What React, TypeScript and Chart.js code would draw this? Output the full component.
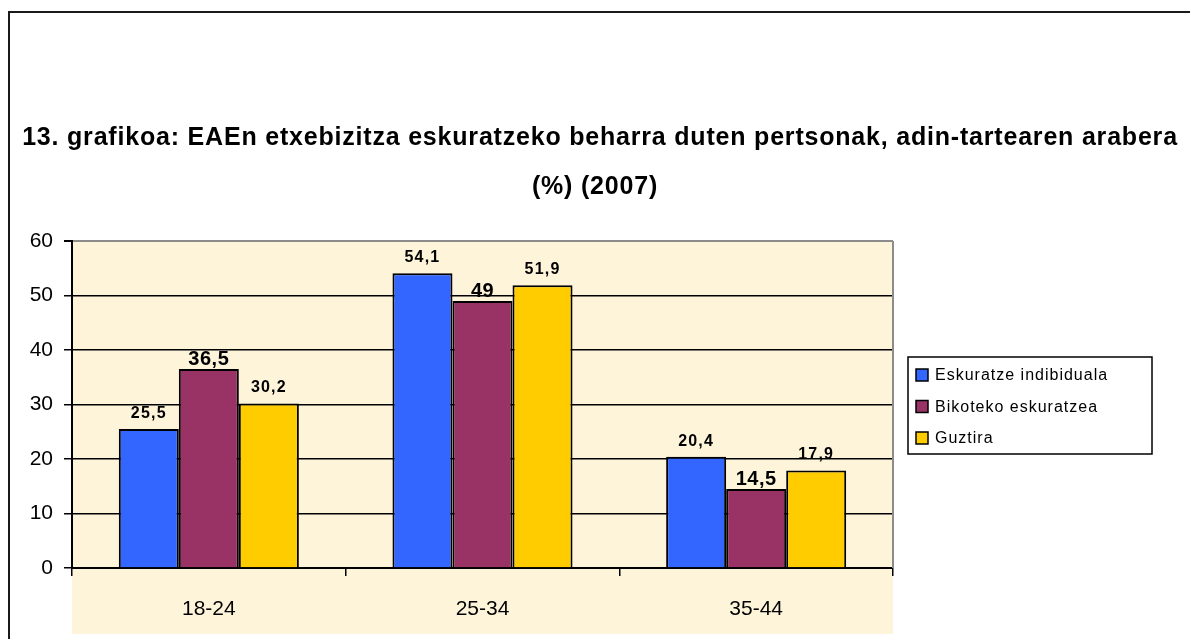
import React, { useEffect, useRef } from "react";
import { Chart, registerables } from "chart.js";

Chart.register(...registerables);

const TITLE_LINES = [
  "13. grafikoa: EAEn etxebizitza eskuratzeko beharra duten pertsonak, adin-tartearen arabera",
  "(%) (2007)",
];
const CATEGORIES = ["18-24", "25-34", "35-44"];
const SERIES_NAMES = ["Eskuratze indibiduala", "Bikoteko eskuratzea", "Guztira"];
const INDIVIDUAL = [25.5, 54.1, 20.4];
const COUPLE = [36.5, 49, 14.5];
const TOTAL = [30.2, 51.9, 17.9];
const Y_MIN = 0;
const Y_MAX = 60;
const Y_STEP = 10;

const COLORS = ["#3366FF", "#993366", "#FFCC00"];
const FONT = "Arial, 'Liberation Sans', sans-serif";
const BEIGE = "#FDF4DA";

const fmt = (v: number) => String(v).replace(".", ",");

const decorPlugin = {
  id: "decor",
  beforeDraw(chart: any) {
    const { ctx, chartArea } = chart;
    const xs = chart.scales.x;
    ctx.save();
    ctx.fillStyle = "#ffffff";
    ctx.fillRect(0, 0, chart.width, chart.height);
    ctx.fillStyle = BEIGE;
    ctx.fillRect(chartArea.left, chartArea.top, chartArea.right - chartArea.left, xs.bottom - 5 - chartArea.top);
    ctx.restore();
  },
  afterDraw(chart: any) {
    const { ctx, chartArea } = chart;
    ctx.save();
    // outer frame
    ctx.strokeStyle = "#1a1a1a";
    ctx.lineWidth = 2;
    ctx.beginPath();
    ctx.moveTo(9, chart.height + 5);
    ctx.lineTo(9, 12);
    ctx.lineTo(chart.width + 5, 12);
    ctx.stroke();

    // plot right border (grey)
    ctx.strokeStyle = "#8c8c8c";
    ctx.lineWidth = 2;
    ctx.beginPath();
    ctx.moveTo(chartArea.right, chartArea.top);
    ctx.lineTo(chartArea.right, chartArea.bottom);
    ctx.stroke();

    // title
    ctx.fillStyle = "#000";
    ctx.font = `bold 25px ${FONT}`;
    (ctx as any).letterSpacing = "0.8px";
    ctx.textAlign = "center";
    ctx.textBaseline = "alphabetic";
    ctx.fillText(TITLE_LINES[0], 600, 145);
    ctx.fillText(TITLE_LINES[1], 595, 194);

    // value labels
    chart.data.datasets.forEach((ds: any, di: number) => {
      const meta = chart.getDatasetMeta(di);
      const big = ds.labelBig;
      ctx.font = big ? `bold 20px ${FONT}` : `bold 16px ${FONT}`;
      (ctx as any).letterSpacing = big ? "0.5px" : "1.2px";
      ctx.textAlign = "center";
      ctx.textBaseline = "alphabetic";
      meta.data.forEach((bar: any, i: number) => {
        const v = ds.data[i];
        ctx.fillText(fmt(v), bar.x, bar.y - (big ? 4 : 11));
      });
    });

    // legend
    const lx = 908, ly = 357, lw = 244, lh = 97;
    ctx.fillStyle = "#ffffff";
    ctx.fillRect(lx, ly, lw, lh);
    ctx.strokeStyle = "#000";
    ctx.lineWidth = 1.5;
    ctx.strokeRect(lx, ly, lw, lh);
    ctx.font = `16px ${FONT}`;
    (ctx as any).letterSpacing = "1px";
    ctx.textAlign = "left";
    ctx.textBaseline = "middle";
    chart.data.datasets.forEach((ds: any, di: number) => {
      const cy = 375 + di * 31.5;
      ctx.fillStyle = ds.backgroundColor;
      ctx.fillRect(916, cy - 6, 12, 12);
      ctx.strokeStyle = "#000";
      ctx.lineWidth = 1.5;
      ctx.strokeRect(916, cy - 6, 12, 12);
      ctx.fillStyle = "#000";
      ctx.fillText(ds.label, 935, cy + 1);
    });
    ctx.restore();
  },
};

export default function App() {
  const ref = useRef<HTMLCanvasElement | null>(null);
  useEffect(() => {
    if (!ref.current) return;
    const series = [INDIVIDUAL, COUPLE, TOTAL];
    const chart = new Chart(ref.current, {
      type: "bar",
      data: {
        labels: CATEGORIES,
        datasets: series.map((d, i) => ({
          label: SERIES_NAMES[i],
          data: d,
          backgroundColor: COLORS[i],
          borderColor: "#000",
          borderWidth: 2,
          categoryPercentage: 0.658,
          barPercentage: 1,
          labelBig: i === 1,
        })) as any,
      },
      options: {
        responsive: false,
        animation: false,
        layout: { padding: { top: 241, left: 0, right: 297, bottom: 0 } },
        plugins: {
          legend: { display: false },
          title: { display: false },
          tooltip: { enabled: false },
        },
        scales: {
          x: {
            afterFit: (s: any) => { s.height = 71; },
            grid: {
              offset: true,
              drawOnChartArea: false,
              color: "#000",
              tickColor: "#000",
              tickLength: 8,
              lineWidth: 1.5,
            },
            border: { color: "#000", width: 2 },
            ticks: { color: "#000", font: { family: FONT, size: 21 }, padding: 21 },
          },
          y: {
            min: Y_MIN,
            max: Y_MAX,
            afterFit: (s: any) => { s.width = 72; },
            grid: {
              color: (c: any) => (c.tick && c.tick.value === Y_MAX ? "#8c8c8c" : "#000"),
              lineWidth: (c: any) => (c.tick && c.tick.value === Y_MAX ? 2 : 1.5),
              tickColor: "#000",
              tickLength: 8,
            },
            border: { color: "#000", width: 2 },
            ticks: { stepSize: Y_STEP, color: "#000", font: { family: FONT, size: 21 }, padding: 11 },
          },
        },
      },
      plugins: [decorPlugin],
    });
    return () => chart.destroy();
  }, []);
  return (
    <div style={{ position: "absolute", left: 0, top: 0, width: 1190, height: 639 }}>
      <canvas ref={ref} width={1190} height={639} style={{ display: "block", width: 1190, height: 639 }} />
    </div>
  );
}
